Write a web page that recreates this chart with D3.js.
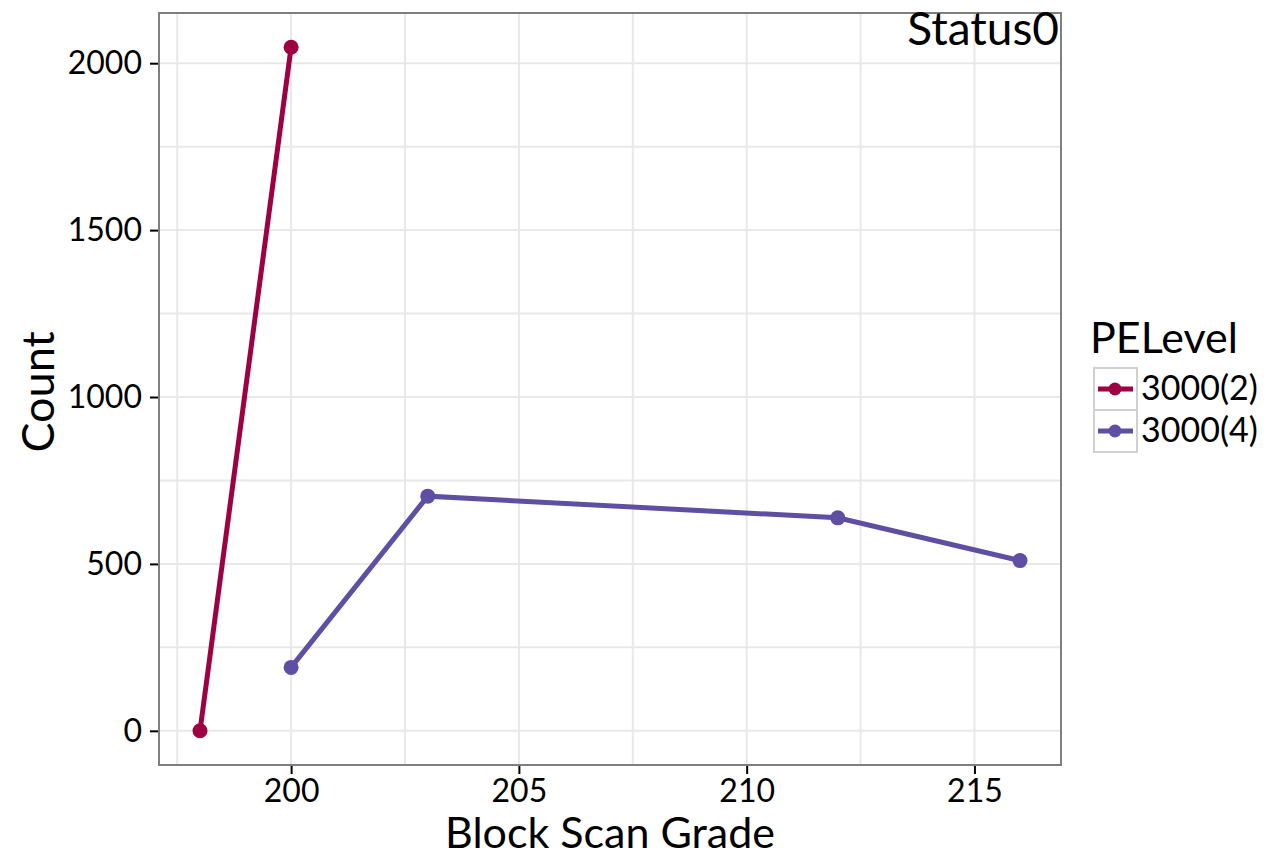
<!DOCTYPE html>
<html><head><meta charset="utf-8">
<script src="https://cdn.jsdelivr.net/npm/d3@7"></script>
<style>body{margin:0;background:#fff;} svg{display:block;font-family:Lato,"Open Sans",sans-serif;}</style>
</head><body>
<svg id="c" width="1266" height="856"></svg>
<script>
const seriesNames = ["3000(2)", "3000(4)"];
const seriesColors = ["#9E0142", "#5E4FA2"];
const grade2 = [198, 200];
const count2 = [0, 2048];
const grade4 = [200, 203, 212, 216];
const count4 = [190, 703, 638, 510];
const xTicks = [200, 205, 210, 215];
const yTicks = [0, 500, 1000, 1500, 2000];
const xMinor = [197.5, 202.5, 207.5, 212.5];
const yMinor = [250, 750, 1250, 1750];

const svg = d3.select("#c");
const L = 159, R = 1061, T = 13, B = 765;
const x = d3.scaleLinear().domain([197.1, 216.9]).range([L, R]);
const y = d3.scaleLinear().domain([-102.4, 2150.4]).range([B, T]);

const g = svg.append("g");
g.selectAll(".gx").data(xMinor.concat(xTicks)).join("line")
  .attr("x1", d => x(d)).attr("x2", d => x(d)).attr("y1", T).attr("y2", B)
  .attr("stroke", "#e8e8e8").attr("stroke-width", 2);
g.selectAll(".gy").data(yMinor.concat(yTicks)).join("line")
  .attr("y1", d => y(d)).attr("y2", d => y(d)).attr("x1", L).attr("x2", R)
  .attr("stroke", "#e8e8e8").attr("stroke-width", 2);

const data = [
  grade2.map((v, i) => ({x: v, y: count2[i]})),
  grade4.map((v, i) => ({x: v, y: count4[i]}))
];
const line = d3.line().x(d => x(d.x)).y(d => y(d.y));
data.forEach((s, k) => {
  g.append("path").datum(s).attr("d", line).attr("fill", "none")
    .attr("stroke", seriesColors[k]).attr("stroke-width", 5);
  g.selectAll(null).data(s).join("circle")
    .attr("cx", d => x(d.x)).attr("cy", d => y(d.y)).attr("r", 7.5)
    .attr("fill", seriesColors[k]);
});

svg.append("rect").attr("x", L).attr("y", T).attr("width", R - L).attr("height", B - T)
  .attr("fill", "none").attr("stroke", "#7f7f7f").attr("stroke-width", 2);

const xa = svg.append("g").attr("transform", `translate(0,${B+1})`)
  .call(d3.axisBottom(x).tickValues(xTicks).tickFormat(d3.format("d")).tickSize(8).tickPadding(5));
const ya = svg.append("g").attr("transform", `translate(${L-1},0)`)
  .call(d3.axisLeft(y).tickValues(yTicks).tickFormat(d3.format("d")).tickSize(8).tickPadding(8));
[xa, ya].forEach(a => {
  a.select(".domain").remove();
  a.selectAll(".tick line").attr("stroke", "#000").attr("stroke-width", 2);
  a.selectAll(".tick text").attr("fill", "#000").style("font-size", "32px")
    .style("font-family", "Lato, 'Open Sans', sans-serif");
});

svg.append("text").attr("x", 610).attr("y", 848).attr("text-anchor", "middle")
  .style("font-size", "43px").text("Block Scan Grade");
svg.append("text").attr("transform", "translate(54,392) rotate(-90)").attr("text-anchor", "middle")
  .style("font-size", "45px").text("Count");
svg.append("text").attr("x", R - 2).attr("y", 45).attr("text-anchor", "end")
  .style("font-size", "46px").text("Status0");

const lg = svg.append("g");
lg.append("text").attr("x", 1090).attr("y", 353).style("font-size", "43px").text("PELevel");
seriesNames.forEach((n, i) => {
  const ky = 368 + i * 42;
  lg.append("rect").attr("x", 1094).attr("y", ky).attr("width", 43).attr("height", 42)
    .attr("fill", "#fff").attr("stroke", "#d0d0d0").attr("stroke-width", 2);
  lg.append("line").attr("x1", 1098).attr("x2", 1133).attr("y1", ky + 21).attr("y2", ky + 21)
    .attr("stroke", seriesColors[i]).attr("stroke-width", 5);
  lg.append("circle").attr("cx", 1115).attr("cy", ky + 21).attr("r", 6.5).attr("fill", seriesColors[i]);
  lg.append("text").attr("x", 1141).attr("y", ky + 32).style("font-size", "34px").text(n);
});
</script>
</body></html>
